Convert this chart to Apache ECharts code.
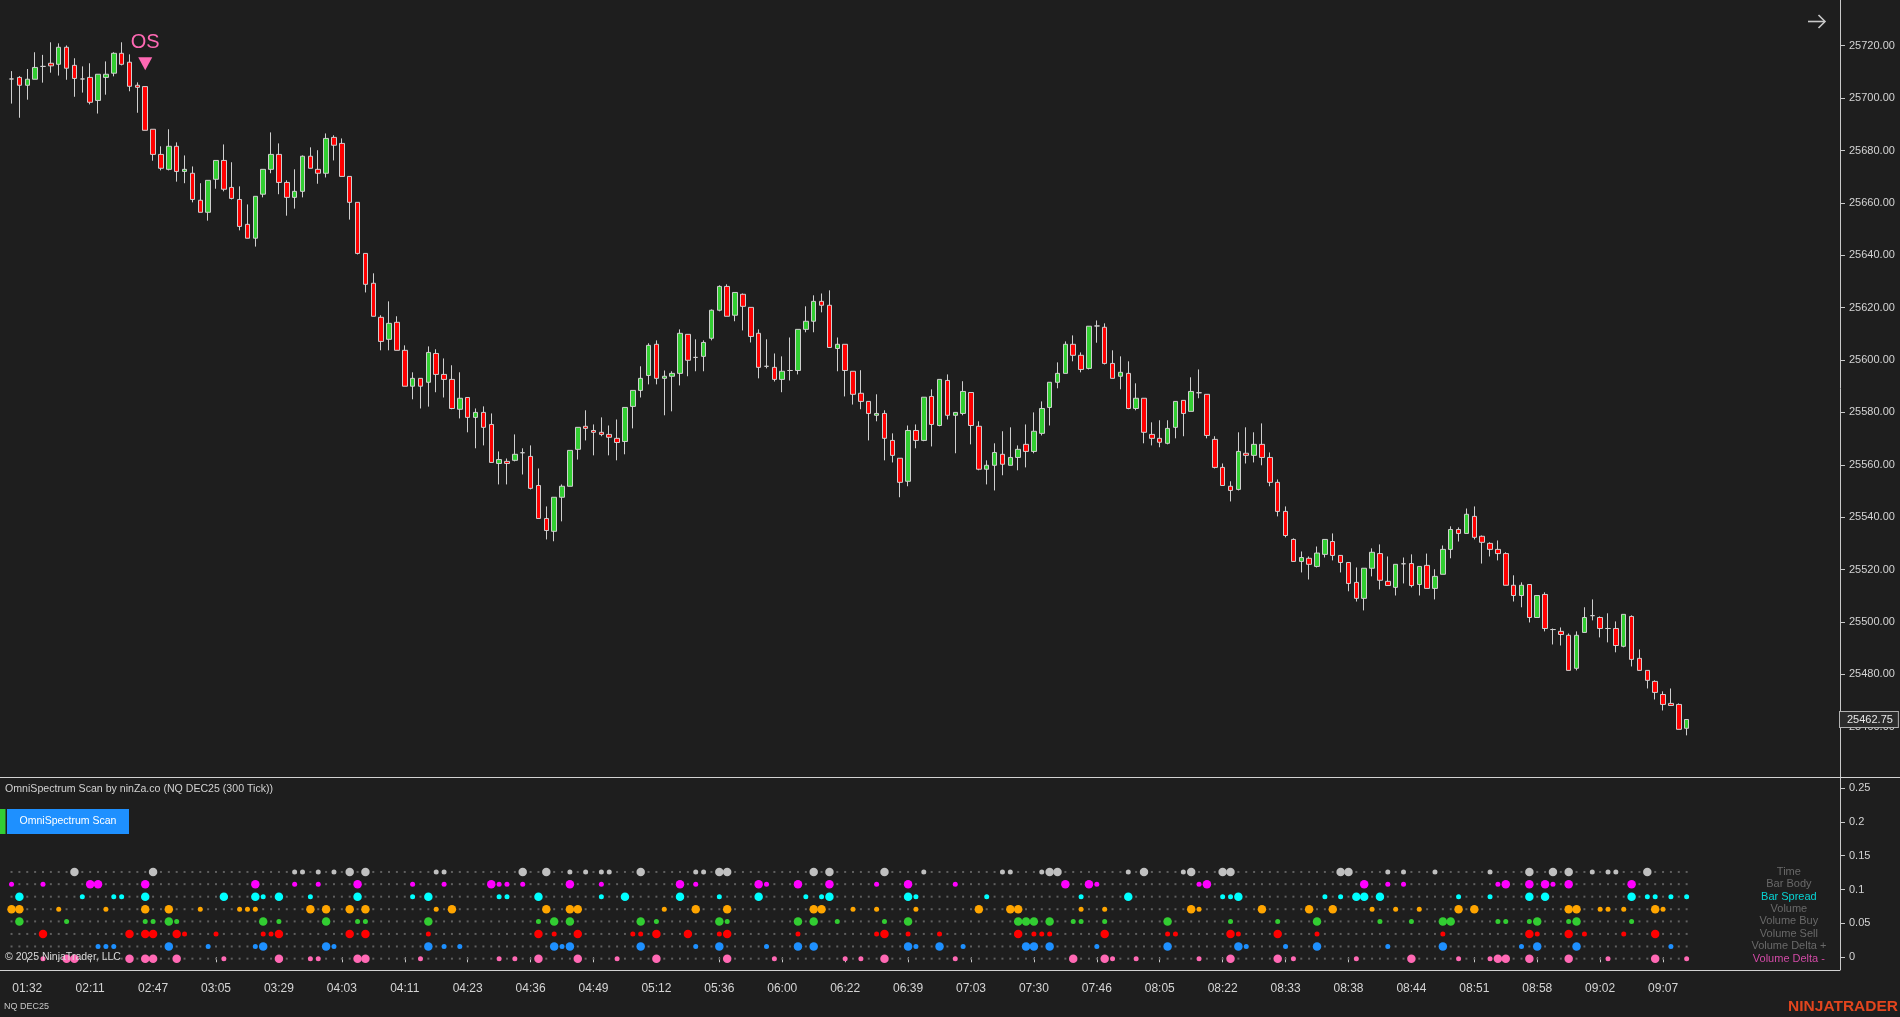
<!DOCTYPE html>
<html><head><meta charset="utf-8">
<script src="https://cdn.jsdelivr.net/npm/echarts@6/dist/echarts.min.js"></script>
<style>html,body{margin:0;padding:0;background:#1e1e1e;overflow:hidden}#c{width:1900px;height:1017px}</style>
</head><body><div id="c"></div>
<script>
// ---------- price data (OHLC per 300-tick bar) ----------
const opens = [25707.3,25707.9,25704.9,25707.2,25712.1,25713.3,25712.9,25719.4,25712.5,25707.3,25707.9,25699.1,25707.9,25709.5,25717.1,25713.7,25704.9,25704.4,25688.1,25678.5,
25672.8,25681.6,25672.0,25671.3,25661.0,25656.4,25669.0,25676.2,25665.9,25661.3,25651.8,25646.5,25663.3,25672.8,25678.5,25667.8,25662.1,25664.4,25677.8,25672.8,
25671.3,25685.0,25682.7,25670.1,25660.2,25640.7,25629.3,25616.3,25607.9,25614.4,25603.7,25590.0,25593.0,25591.5,25602.5,25594.5,25592.6,25581.2,25585.7,25578.1,
25580.0,25575.4,25560.5,25561.3,25561.7,25564.6,25563.2,25552.1,25539.5,25534.6,25547.6,25551.8,25565.9,25574.7,25573.1,25572.4,25571.6,25570.1,25568.9,25582.3,
25588.4,25594.1,25606.0,25593.0,25593.8,25594.9,25609.8,25601.0,25601.4,25608.3,25619.0,25628.1,25617.1,25625.1,25620.1,25610.2,25597.6,25597.2,25592.6,25596.0,
25596.0,25611.7,25614.8,25622.4,25620.9,25604.4,25606.0,25595.7,25587.3,25584.2,25578.9,25579.6,25569.3,25562.5,25553.7,25573.1,25569.3,25586.1,25575.0,25592.2,
25578.9,25579.6,25587.6,25574.7,25558.3,25559.8,25564.0,25559.8,25562.8,25567.8,25565.1,25572.0,25581.9,25591.5,25594.9,25606.0,25601.8,25596.8,25613.0,25612.5,
25598.7,25593.8,25594.9,25581.5,25585.4,25571.6,25570.1,25568.2,25574.3,25584.6,25580.4,25587.5,25586.9,25569.7,25559.0,25551.8,25550.6,25564.4,25563.6,25567.8,
25562.8,25553.3,25542.2,25531.5,25523.1,25524.3,25521.2,25525.8,25530.7,25525.4,25522.7,25515.1,25509.0,25520.5,25526.1,25515.5,25513.2,25522.2,25522.3,25514.3,
25521.6,25512.8,25518.2,25527.7,25535.3,25533.8,25540.3,25532.7,25530.0,25527.7,25526.1,25514.0,25510.1,25514.3,25501.7,25510.5,25497.1,25496.4,25494.9,25482.3,
25496.0,25502.4,25501.7,25497.5,25497.5,25490.7,25502.1,25486.1,25481.5,25477.3,25472.3,25468.9,25468.5,25459.4];
const highs = [25710.3,25708.4,25711.1,25717.5,25716.5,25721.3,25720.9,25720.1,25715.2,25712.1,25713.3,25709.1,25714.0,25717.5,25721.3,25716.7,25706.0,25704.4,25688.1,25681.6,
25688.1,25683.1,25678.1,25673.9,25667.5,25668.6,25676.2,25682.3,25675.5,25666.3,25659.4,25662.5,25672.8,25686.9,25682.7,25668.6,25672.8,25678.1,25681.2,25680.1,
25686.5,25685.8,25684.6,25670.1,25660.2,25640.7,25633.1,25617.1,25622.4,25616.7,25605.6,25595.3,25593.0,25605.2,25604.1,25600.6,25598.0,25595.3,25585.7,25581.5,
25582.3,25579.6,25565.1,25562.4,25571.6,25566.3,25567.4,25558.6,25544.1,25547.6,25552.5,25565.5,25574.3,25580.8,25575.4,25578.1,25575.0,25577.3,25581.9,25588.4,
25597.6,25606.4,25607.5,25596.0,25595.7,25611.7,25609.8,25607.9,25607.5,25619.3,25628.5,25628.9,25625.8,25625.4,25620.1,25611.7,25607.9,25602.5,25601.4,25608.6,
25611.7,25620.5,25624.7,25625.4,25626.6,25608.6,25606.0,25595.7,25596.1,25584.2,25586.9,25580.8,25572.0,25562.5,25575.0,25575.4,25585.8,25588.8,25592.6,25594.5,
25580.0,25591.9,25587.6,25576.6,25561.7,25568.2,25572.8,25574.3,25567.4,25575.4,25580.0,25584.2,25591.5,25599.1,25607.1,25609.4,25602.9,25612.9,25615.1,25614.0,
25603.7,25601.4,25599.5,25591.1,25585.4,25576.2,25577.0,25577.0,25584.2,25584.6,25593.4,25596.4,25586.9,25570.9,25560.5,25553.7,25572.4,25574.3,25572.4,25575.8,
25564.7,25554.4,25544.1,25531.9,25526.9,25525.0,25528.8,25531.5,25533.8,25525.4,25522.7,25520.8,25520.5,25528.1,25529.6,25525.0,25522.0,25524.6,25525.8,25521.2,
25526.1,25520.1,25529.2,25536.5,25536.1,25543.3,25544.1,25533.0,25530.4,25531.1,25526.6,25517.8,25515.1,25514.3,25510.1,25511.3,25497.5,25497.9,25495.6,25496.4,
25505.6,25508.6,25502.1,25503.3,25500.2,25502.9,25502.5,25489.5,25481.5,25477.7,25473.5,25474.6,25468.9,25462.75];
const lows = [25697.9,25692.5,25699.4,25707.2,25705.9,25709.7,25708.6,25707.0,25700.5,25702.1,25697.6,25694.1,25701.3,25708.3,25712.5,25702.6,25694.4,25687.7,25676.1,25672.4,
25672.4,25668.1,25667.5,25660.2,25656.4,25653.2,25665.4,25664.4,25661.3,25649.5,25646.5,25643.3,25662.1,25671.3,25663.3,25655.1,25657.8,25662.1,25673.2,25667.3,
25669.7,25676.2,25670.1,25653.6,25640.3,25625.8,25616.7,25603.7,25603.7,25603.7,25590.0,25585.0,25581.5,25582.2,25587.7,25585.7,25581.2,25577.7,25572.4,25566.3,
25567.4,25560.9,25552.5,25552.5,25561.3,25556.3,25550.6,25539.5,25531.5,25530.8,25538.4,25551.8,25562.0,25569.3,25563.6,25570.9,25563.6,25561.7,25564.0,25573.9,
25585.7,25590.7,25590.7,25578.9,25580.4,25590.3,25593.8,25595.7,25595.7,25607.5,25618.6,25616.7,25614.8,25611.3,25606.7,25593.0,25596.8,25591.8,25587.7,25592.2,
25594.5,25610.6,25610.6,25618.2,25604.8,25595.7,25586.1,25583.0,25581.2,25569.3,25576.6,25561.7,25560.9,25547.6,25551.8,25566.3,25569.0,25567.0,25574.7,25577.3,
25564.4,25578.9,25567.8,25557.9,25552.5,25550.2,25556.0,25559.8,25557.9,25559.0,25564.4,25571.2,25575.0,25589.2,25594.9,25599.5,25595.3,25596.4,25606.6,25598.3,
25593.0,25588.8,25581.2,25580.8,25568.2,25567.4,25566.7,25567.8,25570.1,25570.9,25580.4,25585.4,25570.1,25558.6,25552.1,25546.0,25550.2,25560.5,25560.9,25559.8,
25551.8,25540.3,25532.3,25523.1,25518.9,25516.2,25520.8,25524.6,25523.5,25518.9,25511.7,25507.8,25504.4,25517.4,25512.4,25513.9,25510.1,25514.7,25513.2,25510.1,
25512.8,25508.6,25518.2,25524.3,25530.7,25533.8,25531.5,25522.3,25525.0,25523.5,25514.0,25507.8,25505.6,25499.8,25501.7,25496.4,25491.4,25491.0,25481.5,25481.5,
25496.0,25500.6,25494.1,25492.2,25488.4,25490.3,25483.0,25481.5,25474.6,25470.4,25466.2,25468.1,25459.0,25456.7];
const closes = [25707.3,25704.9,25707.2,25711.7,25712.1,25712.3,25719.4,25711.4,25707.5,25707.3,25698.4,25709.1,25709.1,25717.1,25712.9,25704.5,25704.1,25687.7,25678.5,25673.2,
25681.6,25672.0,25672.8,25661.3,25656.4,25668.6,25676.2,25665.2,25661.7,25651.0,25646.5,25662.5,25672.8,25678.5,25667.8,25662.1,25664.4,25677.8,25673.2,25671.3,
25684.6,25682.0,25670.1,25660.2,25640.7,25628.9,25616.7,25607.1,25614.0,25603.7,25590.0,25593.0,25590.0,25602.9,25594.5,25592.6,25581.5,25585.4,25578.1,25580.0,
25574.3,25560.9,25562.0,25560.5,25564.0,25564.6,25551.0,25539.5,25534.9,25547.6,25551.8,25565.5,25574.3,25573.9,25572.4,25571.6,25570.5,25568.5,25581.9,25588.4,
25593.0,25605.6,25593.0,25593.8,25594.9,25610.2,25599.9,25601.0,25606.7,25619.0,25628.1,25616.7,25625.8,25620.5,25609.0,25597.2,25597.6,25592.6,25595.7,25596.0,
25611.7,25614.8,25622.4,25620.9,25604.8,25606.0,25596.0,25586.9,25584.2,25579.6,25579.6,25570.1,25563.6,25553.3,25573.1,25569.3,25585.8,25575.4,25592.6,25578.9,
25580.0,25588.0,25575.0,25558.3,25559.8,25564.7,25560.2,25562.8,25565.9,25565.1,25572.8,25581.5,25591.5,25594.9,25606.0,25601.8,25596.4,25612.9,25613.0,25598.7,
25593.0,25595.3,25581.5,25585.4,25572.4,25570.1,25568.6,25573.9,25584.2,25579.6,25588.0,25587.5,25571.2,25559.0,25552.1,25550.2,25565.1,25563.6,25567.8,25562.8,
25553.3,25542.2,25533.0,25523.1,25524.6,25522.0,25526.3,25531.5,25525.4,25522.7,25514.7,25509.0,25520.5,25526.6,25515.9,25513.9,25522.0,25522.2,25513.9,25521.2,
25512.8,25517.4,25527.7,25535.3,25533.8,25541.1,25532.3,25530.4,25527.7,25526.1,25514.0,25510.1,25514.0,25501.7,25510.1,25497.5,25497.1,25495.2,25481.5,25494.9,
25501.7,25502.4,25497.5,25497.5,25491.0,25502.9,25485.7,25481.5,25477.7,25473.1,25468.5,25468.1,25459.0,25462.75];

// ---------- x-axis tick labels (one every 8 bars, from bar 2) ----------
const timeLabels = ['01:32','02:11','02:47','03:05','03:29','04:03','04:11','04:23','04:36','04:49','05:12','05:36','06:00','06:22',
'06:39','07:03','07:30','07:46','08:05','08:22','08:33','08:38','08:44','08:51','08:58','09:02','09:07'];

// ---------- OS signal ----------
const osBar = 17;
const osPrice = 25713.1;

// ---------- OmniSpectrum scan rows ----------
const rowNames = ['Time','Bar Body','Bar Spread','Volume','Volume Buy','Volume Sell','Volume Delta +','Volume Delta -'];
const rowLevels = [0.126,0.108,0.0895,0.071,0.053,0.0345,0.016,-0.002];
const timeLarge = [8,18,43,45,65,68,80,90,91,102,104,111,132,133,144,150,154,155,169,170,193,196,198,208];
const timeSmall = [36,37,39,41,54,55,71,73,75,76,87,88,116,126,127,131,142,149,175,177,181,188,201,203,204];
const bodyLarge = [10,11,17,31,44,61,71,85,95,100,104,114,134,137,152,172,190,193,195,198,206];
const bodySmall = [0,4,36,39,51,55,62,63,65,75,87,96,110,120,138,151,175,177,189,196];
const spreadLarge = [1,17,27,31,34,44,53,67,78,85,95,104,114,142,156,171,172,174,193,195,206];
const spreadSmall = [9,13,14,32,38,51,62,63,75,90,101,103,115,124,136,154,155,167,169,184,188,208,209,211,213];
const volumeLarge = [0,1,17,20,38,40,43,45,56,68,71,72,87,91,102,103,123,127,128,150,159,165,168,184,186,198,199,209];
const volumeSmall = [6,12,24,29,30,31,54,83,107,110,115,136,139,151,173,176,179,202,203,205,210];
const buyLarge = [1,20,32,40,53,69,71,80,90,100,102,114,128,129,130,132,147,166,182,183,194,199];
const buySmall = [7,17,18,21,34,44,45,67,82,91,105,111,135,136,139,155,161,174,178,189,190,193,198,206];
const sellLarge = [4,15,17,18,21,34,43,45,67,72,82,86,91,111,128,139,155,161,193,198,209];
const sellSmall = [22,26,32,33,53,69,79,80,90,100,110,114,118,130,131,132,147,148,156,166,182,194,200,205];
const deltaPlusLarge = [20,32,40,53,69,71,80,90,100,102,114,118,129,130,132,147,156,166,182,194,199];
const deltaPlusSmall = [11,12,13,25,31,41,55,57,70,87,96,115,121,138,157,162,175,192,211];
const deltaMinusLarge = [7,8,15,17,18,21,34,44,45,67,72,82,91,111,135,139,155,161,178,189,190,193,198,209];
const deltaMinusSmall = [4,27,38,39,52,62,64,77,97,106,108,120,140,143,151,163,171,184,188,203,213];

// ---------- build ----------
const FONT = 'Arial, "Liberation Sans", sans-serif';
const NBARS = opens.length;
const NCAT = 233;
const cats = Array.from({length: NCAT}, (_, i) => String(i));
const candleData = opens.map((o, i) => [o, closes[i], lows[i], highs[i]]);
const lastClose = closes[NBARS - 1];

const rowLarge = [timeLarge, bodyLarge, spreadLarge, volumeLarge, buyLarge, sellLarge, deltaPlusLarge, deltaMinusLarge];
const rowSmall = [timeSmall, bodySmall, spreadSmall, volumeSmall, buySmall, sellSmall, deltaPlusSmall, deltaMinusSmall];
const rowColors = ['#c0c0c0','#ff00ff','#00ffff','#ffa500','#32cd32','#ff0000','#1e90ff','#ff69b4'];
const rowLabelColors = ['#7c7c7c','#7c7c7c','#00ffff','#7c7c7c','#7c7c7c','#7c7c7c','#7c7c7c','#ff55c8'];

const isTickIdx = (idx) => idx >= 2 && (idx - 2) % 8 === 0 && (idx - 2) / 8 < timeLabels.length;

const gridDots = [];
for (let r = 0; r < rowLevels.length; r++) for (let i = 0; i < NBARS; i++) gridDots.push([i, rowLevels[r]]);

const dotSeries = rowLevels.map((lvl, r) => ({
  type: 'scatter', xAxisIndex: 1, yAxisIndex: 1, z: 3,
  data: rowLarge[r].map(i => [i, lvl, 2]).concat(rowSmall[r].map(i => [i, lvl, 1])),
  symbol: 'circle', symbolSize: d => (d[2] === 2 ? 8.5 : 5),
  itemStyle: { color: rowColors[r], opacity: 1 }, silent: true
}));

const option = {
  backgroundColor: '#1e1e1e',
  animation: false,
  textStyle: { fontFamily: FONT },
  grid: [
    { left: 7.6, right: 60, top: 0, height: 777 },
    { left: 7.6, right: 60, top: 777, height: 193 }
  ],
  xAxis: [
    { type: 'category', gridIndex: 0, data: cats, show: false, boundaryGap: true },
    { type: 'category', gridIndex: 1, data: cats, boundaryGap: true,
      axisLine: { show: false },
      axisTick: { show: true, alignWithLabel: true, length: 5, interval: (idx) => isTickIdx(idx), lineStyle: { color: '#c8c8c8' } },
      axisLabel: { show: true, interval: (idx) => isTickIdx(idx), color: '#d4d4d4', fontSize: 12, margin: 13, fontFamily: FONT,
        formatter: (v, idx) => isTickIdx(idx) ? timeLabels[(idx - 2) / 8] : '' },
      splitLine: { show: false } }
  ],
  yAxis: [
    { type: 'value', gridIndex: 0, position: 'right', min: 25440.8, max: 25737.45, splitNumber: 15,
      axisLine: { show: true, lineStyle: { color: '#c8c8c8' } },
      axisTick: { show: true, length: 5, lineStyle: { color: '#c8c8c8' } },
      splitLine: { show: false },
      axisLabel: { color: '#d4d4d4', fontSize: 11, margin: 9, fontFamily: FONT, showMinLabel: false, showMaxLabel: false,
        formatter: v => (Math.abs(v / 20 - Math.round(v / 20)) < 1e-6 ? v.toFixed(2) : '') } },
    { type: 'value', gridIndex: 1, position: 'right', min: -0.01875, max: 0.2662, splitNumber: 6,
      axisLine: { show: true, lineStyle: { color: '#c8c8c8' } },
      axisTick: { show: true, length: 5, lineStyle: { color: '#c8c8c8' } },
      splitLine: { show: false },
      axisLabel: { color: '#d4d4d4', fontSize: 11, margin: 9, fontFamily: FONT, showMinLabel: false, showMaxLabel: false,
        formatter: v => { const k = v / 0.05; return Math.abs(k - Math.round(k)) < 1e-6 ? String(parseFloat(v.toFixed(2))) : ''; } } }
  ],
  series: [
    { type: 'candlestick', xAxisIndex: 0, yAxisIndex: 0, data: candleData, barWidth: 5,
      itemStyle: { color: '#32cd32', color0: '#ff0000', borderColor: '#cfcfcf', borderColor0: '#cfcfcf', borderWidth: 1 },
      markLine: { silent: true, symbol: ['none', 'none'], animation: false, z: 20,
        lineStyle: { color: 'rgba(0,0,0,0)', width: 1, type: 'solid' },
        data: [{ yAxis: lastClose }],
        label: { show: true, position: 'end', distance: 0, formatter: p => Number(p.value).toFixed(2),
          color: '#e6e6e6', fontSize: 11, fontFamily: FONT, backgroundColor: '#2b2b2b', borderColor: '#b0b0b0', borderWidth: 1,
          padding: [2, 5, 2, 7], opacity: 1 } } },
    { type: 'scatter', xAxisIndex: 0, yAxisIndex: 0, z: 5, data: [[osBar, osPrice]],
      symbol: 'path://M0,0 L14,0 L7,13 Z', symbolSize: [14, 13], itemStyle: { color: '#ff69b4', opacity: 1 },
      label: { show: true, position: 'top', distance: 5, formatter: 'OS', color: '#ff69b4', fontSize: 20, fontFamily: FONT } },
    { type: 'scatter', xAxisIndex: 1, yAxisIndex: 1, z: 2, data: gridDots, symbol: 'rect', symbolSize: 2,
      itemStyle: { color: '#5f5f5f', opacity: 1 }, silent: true },
    ...dotSeries,
    { type: 'scatter', xAxisIndex: 1, yAxisIndex: 1, z: 4, symbolSize: 0, silent: true,
      data: rowNames.map((n, r) => ({ value: [226, rowLevels[r]], name: n,
        label: { show: true, position: 'inside', formatter: n, color: rowLabelColors[r], fontSize: 11, fontFamily: FONT } })) }
  ],
  graphic: [
    { type: 'line', z: 50, shape: { x1: 0, y1: 777.5, x2: 1900, y2: 777.5 }, style: { stroke: '#d2d2d2', lineWidth: 1 } },
    { type: 'line', z: 50, shape: { x1: 0, y1: 970.5, x2: 1840, y2: 970.5 }, style: { stroke: '#d2d2d2', lineWidth: 1 } },
    { type: 'text', z: 60, style: { text: 'OmniSpectrum Scan by ninZa.co (NQ DEC25 (300 Tick))', x: 5, y: 789,
      textVerticalAlign: 'middle', verticalAlign: 'middle', fill: '#d2d2d2', font: '10.6px ' + FONT } },
    { type: 'rect', z: 60, shape: { x: 0, y: 809, width: 5.5, height: 25 }, style: { fill: '#32cd32' } },
    { type: 'rect', z: 60, shape: { x: 7, y: 809, width: 122, height: 25 }, style: { fill: '#1e90ff' } },
    { type: 'text', z: 61, style: { text: 'OmniSpectrum Scan', x: 68, y: 821.5, textAlign: 'center', align: 'center',
      textVerticalAlign: 'middle', verticalAlign: 'middle', fill: '#ffffff', font: '10.5px ' + FONT } },
    { type: 'text', z: 60, style: { text: '\u00A9 2025 NinjaTrader, LLC', x: 5, y: 957,
      textVerticalAlign: 'middle', verticalAlign: 'middle', fill: '#d8d8d8', font: '10.5px ' + FONT } },
    { type: 'text', z: 60, style: { text: 'NQ DEC25', x: 4, y: 1007,
      textVerticalAlign: 'middle', verticalAlign: 'middle', fill: '#c8c8c8', font: '9px ' + FONT } },
    { type: 'text', z: 60, style: { text: 'NINJATRADER', x: 1898, y: 1007, textAlign: 'right', align: 'right',
      textVerticalAlign: 'middle', verticalAlign: 'middle', fill: '#e2451e', font: 'bold 15.5px ' + FONT } },
    { type: 'polyline', z: 60, shape: { points: [[1808, 21.5], [1825, 21.5]] }, style: { stroke: '#c8c8c8', lineWidth: 1.6, fill: null } },
    { type: 'polyline', z: 60, shape: { points: [[1818.5, 15], [1825, 21.5], [1818.5, 28]] }, style: { stroke: '#c8c8c8', lineWidth: 1.6, fill: null } }
  ]
};

const chart = echarts.init(document.getElementById('c'), null, { renderer: 'canvas', width: 1900, height: 1017 });
chart.setOption(option);
</script>
</body></html>
